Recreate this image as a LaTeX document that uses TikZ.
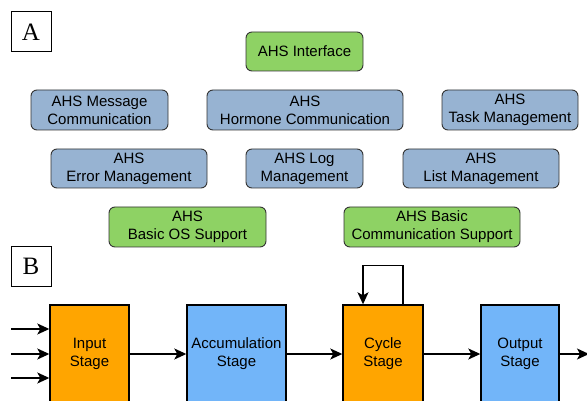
\documentclass[tikz,border=0pt]{standalone}
\usepackage{fontspec}
\setmainfont{Liberation Sans}
\newfontfamily\serifA{Liberation Serif}
\usetikzlibrary{arrows.meta}
\definecolor{gr}{HTML}{8ED264}
\definecolor{bg}{HTML}{97B3D2}
\definecolor{orng}{HTML}{FFA500}
\definecolor{lb}{HTML}{72B5F9}
\definecolor{bd}{HTML}{333333}
\tikzset{
  mod/.style={draw=bd, line width=0.9pt, rounded corners=6pt, inner sep=0pt, align=center,
    font=\fontsize{15}{18}\selectfont},
  gmod/.style={mod, fill=gr},
  bmod/.style={mod, fill=bg},
  stage/.style={draw=black, line width=1.4pt, inner sep=0pt, align=center,
    minimum height=98pt, font=\fontsize{15}{18}\selectfont},
  lab/.style={draw=black, line width=1pt, minimum width=40pt, minimum height=40pt, inner sep=0pt,
    font=\serifA\fontsize{25}{25}\selectfont},
  arr/.style={line width=1.4pt, -{Stealth[length=12pt,width=11pt,inset=3pt]}},
}
\begin{document}
\begin{tikzpicture}[x=1pt,y=-1pt]
\useasboundingbox (0,0) rectangle (587,401);
\clip (0,0) rectangle (587,401);
\node[lab] (la) at (31,32) {A};
\node[lab] (lbb) at (31,266.5) {B};
\node[gmod, minimum width=117pt, minimum height=39pt] (ifc) at (304.5,51.5) {AHS Interface};
\node[bmod, minimum width=137pt, minimum height=40pt] (msg) at (99.5,110) {AHS Message\\Communication};
\node[bmod, minimum width=196pt, minimum height=40pt] (hor) at (305,110) {AHS\\Hormone Communication};
\node[bmod, minimum width=136pt, minimum height=40pt] (task) at (510,110) {AHS\\Task Management};
\node[bmod, minimum width=156pt, minimum height=39pt] (err) at (129,168.5) {AHS\\Error Management};
\node[bmod, minimum width=117pt, minimum height=39pt] (log) at (304.5,168.5) {AHS Log\\Management};
\node[bmod, minimum width=156pt, minimum height=39pt] (list) at (481,168.5) {AHS\\List Management};
\node[gmod, minimum width=157pt, minimum height=40pt] (os) at (187.5,227) {AHS\\Basic OS Support};
\node[gmod, minimum width=176pt, minimum height=40pt] (com) at (432,227) {AHS Basic\\Communication Support};
\node[stage, fill=orng, minimum width=79pt] (inp) at (89.5,354) {Input\\Stage};
\node[stage, fill=lb, minimum width=99pt] (acc) at (236.5,354) {Accumulation\\Stage};
\node[stage, fill=orng, minimum width=80pt] (cyc) at (383,354) {Cycle\\Stage};
\node[stage, fill=lb, minimum width=78pt] (out) at (520,354) {Output\\Stage};
\coordinate (i1) at (11,329);
\coordinate (i2) at (11,354);
\coordinate (i3) at (11,378);
\coordinate (oe) at (589,354);
\draw[arr] (i1) -- (i1 -| inp.west);
\draw[arr] (i2) -- (i2 -| inp.west);
\draw[arr] (i3) -- (i3 -| inp.west);
\draw[arr] (inp.east) -- (acc.west);
\draw[arr] (acc.east) -- (cyc.west);
\draw[arr] (cyc.east) -- (out.west);
\draw[arr] (out.east) -- (oe);
\draw[arr] ([xshift=20pt]cyc.north) -- ++(0,-39) -| ([xshift=-20pt]cyc.north);
\end{tikzpicture}
\end{document}
